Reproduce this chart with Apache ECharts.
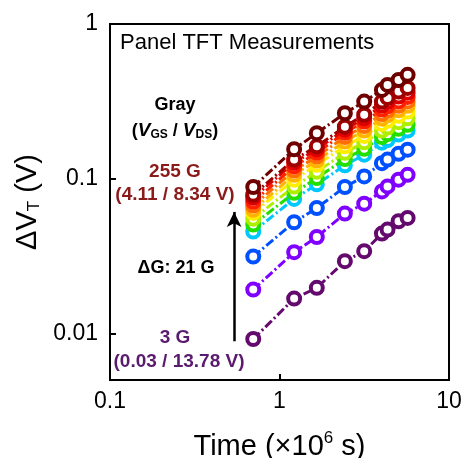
<!DOCTYPE html>
<html>
<head>
<meta charset="utf-8">
<script src="https://cdn.jsdelivr.net/npm/echarts@6/dist/echarts.min.js"></script>
<style>
  html, body { margin: 0; padding: 0; background: #fff; }
  #chart { width: 464px; height: 458px; }
</style>
</head>
<body>
<div id="chart"></div>
<script>
// stress time (x10^6 s)
const times = [0.70, 1.22, 1.66, 2.43, 3.16, 4.02, 4.34, 5.04, 5.70];

// gray levels, bottom to top
const grayLevels = ["3G", "24G", "45G", "66G", "87G", "108G", "129G", "150G", "171G", "192G", "213G", "234G", "255G"];

const colors = ["#640a6e", "#8000ff", "#0050ff", "#00c8ff", "#22e000", "#b0ee00", "#ffee00",
                "#ffb400", "#ff7000", "#ff2000", "#dd0000", "#a00000", "#6e0000"];

// delta VT (V) for each gray level
const dvt3 = [0.0092, 0.0168, 0.0197, 0.0293, 0.034, 0.0442, 0.0469, 0.0531, 0.0558];
const dvt24 = [0.0192, 0.0335, 0.042, 0.0595, 0.069, 0.0828, 0.0892, 0.0986, 0.106];
const dvt45 = [0.0314, 0.0523, 0.0647, 0.0884, 0.1035, 0.126, 0.133, 0.145, 0.154];
const dvt66 = [0.0455, 0.074, 0.092, 0.122, 0.143, 0.171, 0.178, 0.193, 0.205];
const dvt87 = [0.0505, 0.081, 0.101, 0.134, 0.156, 0.186, 0.194, 0.21, 0.223];
const dvt108 = [0.0552, 0.089, 0.111, 0.147, 0.172, 0.205, 0.214, 0.232, 0.246];
const dvt129 = [0.0601, 0.0986, 0.123, 0.162, 0.189, 0.226, 0.237, 0.255, 0.272];
const dvt150 = [0.063, 0.106, 0.131, 0.174, 0.205, 0.245, 0.257, 0.277, 0.296];
const dvt171 = [0.067, 0.113, 0.139, 0.186, 0.219, 0.262, 0.275, 0.296, 0.316];
const dvt192 = [0.071, 0.12, 0.147, 0.198, 0.234, 0.28, 0.294, 0.316, 0.338];
const dvt213 = [0.0754, 0.127, 0.155, 0.208, 0.246, 0.297, 0.313, 0.34, 0.36];
const dvt234 = [0.0788, 0.133, 0.162, 0.217, 0.259, 0.315, 0.333, 0.366, 0.386];
const dvt255 = [0.0884, 0.155, 0.197, 0.265, 0.315, 0.375, 0.404, 0.435, 0.469];

const allValues = [dvt3, dvt24, dvt45, dvt66, dvt87, dvt108, dvt129, dvt150, dvt171, dvt192, dvt213, dvt234, dvt255];

// arrow from 3 G up to 255 G (data coords)
const arrowX = 0.54;
const arrowFrom = 0.0089;
const arrowTo = 0.061;

const font = "Liberation Sans, Arial, sans-serif";

const chart = echarts.init(document.getElementById("chart"));

const series = allValues.map((vals, i) => ({
  name: grayLevels[i],
  type: "line",
  data: times.map((t, j) => [t, vals[j]]),
  symbol: "circle",
  symbolSize: 12,
  lineStyle: { color: colors[i], width: 3, type: [9, 3, 2, 3] },
  itemStyle: { color: "#fff", borderColor: colors[i], borderWidth: 4 },
  z: 2 + i,
}));

// arrow drawn as a markLine on the first series
series[0].markLine = {
  silent: true,
  symbol: ["none", "arrow"],
  symbolSize: [11, 15],
  label: { show: false },
  lineStyle: { color: "#000", width: 2.5, type: "solid" },
  data: [[{ coord: [arrowX, arrowFrom] }, { coord: [arrowX, arrowTo] }]],
};

const isDecade = (v) => Math.abs(Math.log10(v) - Math.round(Math.log10(v))) < 1e-6;

const option = {
  animation: false,
  backgroundColor: "#fff",
  grid: {
    left: 110, right: 15, top: 24, bottom: 78,
    outerBoundsMode: "none",
    show: true, borderColor: "#000", borderWidth: 2,
  },
  xAxis: {
    type: "log",
    min: 0.1,
    max: 10,
    name: "Time (×10{sup|6} s)",
    nameLocation: "middle",
    nameGap: 50,
    nameTextStyle: {
      fontFamily: font, fontSize: 29, color: "#000",
      rich: { sup: { fontFamily: font, fontSize: 17, verticalAlign: "top", padding: [0, 0, 16, 0] } },
    },
    axisLine: { lineStyle: { color: "#000", width: 2 } },
    axisTick: { inside: true, length: 6, lineStyle: { color: "#000", width: 2 } },
    splitLine: { show: false },
    axisLabel: {
      fontFamily: font, fontSize: 23, color: "#000", margin: 10,
      formatter: (v) => (isDecade(v) ? String(v) : ""),
    },
  },
  yAxis: {
    type: "log",
    min: 0.005,
    max: 1,
    name: "ΔV{sub|T} (V)",
    nameLocation: "middle",
    nameGap: 66,
    nameTextStyle: {
      fontFamily: font, fontSize: 29, color: "#000",
      rich: { sub: { fontFamily: font, fontSize: 17, verticalAlign: "bottom", padding: [12, 0, 0, 0] } },
    },
    axisLine: { lineStyle: { color: "#000", width: 2 } },
    axisTick: { inside: true, length: 6, lineStyle: { color: "#000", width: 2 } },
    splitLine: { show: false },
    axisLabel: {
      fontFamily: font, fontSize: 23, color: "#000", margin: 12,
      formatter: (v) => (isDecade(v) ? String(v) : ""),
    },
  },
  graphic: [
    {
      type: "text", left: 120, top: 32,
      style: { text: "Panel TFT Measurements", font: "22px " + font, fill: "#000" },
    },
    {
      type: "text", x: 175, y: 105,
      style: { text: "Gray", font: "bold 18px " + font, fill: "#000", align: "center", verticalAlign: "middle" },
    },
    {
      type: "text", x: 175, y: 131,
      style: {
        text: "({i|V}{s|GS} / {i|V}{s|DS})",
        font: "bold 18px " + font, fill: "#000", align: "center", verticalAlign: "middle",
        rich: {
          i: { fontFamily: font, fontSize: 19, fontWeight: "bold", fontStyle: "italic" },
          s: { fontFamily: font, fontSize: 12, fontWeight: "bold", verticalAlign: "bottom", padding: [7, 0, 0, 0] },
        },
      },
    },
    {
      type: "text", x: 175, y: 172,
      style: { text: "255 G", font: "bold 19px " + font, fill: "#8b1a1a", align: "center", verticalAlign: "middle" },
    },
    {
      type: "text", x: 175, y: 195,
      style: { text: "(4.11 / 8.34 V)", font: "bold 19px " + font, fill: "#8b1a1a", align: "center", verticalAlign: "middle" },
    },
    {
      type: "text", x: 176, y: 268,
      style: { text: "ΔG: 21 G", font: "bold 18px " + font, fill: "#000", align: "center", verticalAlign: "middle" },
    },
    {
      type: "text", x: 175, y: 338,
      style: { text: "3 G", font: "bold 19px " + font, fill: "#5a1a6e", align: "center", verticalAlign: "middle" },
    },
    {
      type: "text", x: 179, y: 362,
      style: { text: "(0.03 / 13.78 V)", font: "bold 19px " + font, fill: "#5a1a6e", align: "center", verticalAlign: "middle" },
    },
  ],
  series: series,
};

chart.setOption(option);
</script>
</body>
</html>
